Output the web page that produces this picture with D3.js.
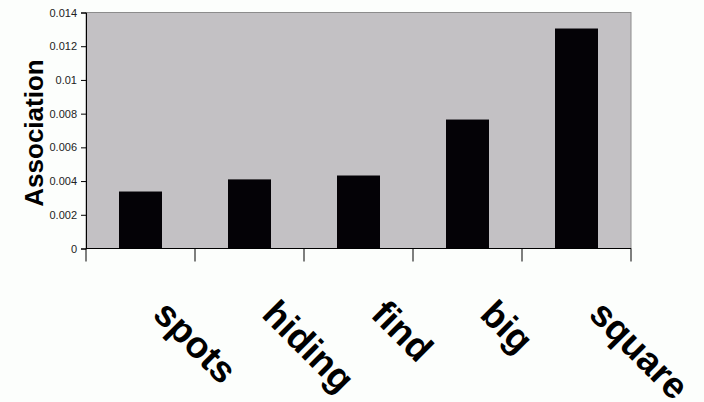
<!DOCTYPE html>
<html>
<head>
<meta charset="utf-8">
<script src="https://cdn.jsdelivr.net/npm/d3@7"></script>
<style>
  html, body { margin: 0; padding: 0; background: #fcfefc; }
  svg { display: block; }
</style>
</head>
<body>
<svg id="chart" width="704" height="402"></svg>
<script>
// Word association strengths
const categories = ["spots", "hiding", "find", "big", "square"];
const values = [0.00338, 0.0041, 0.00433, 0.00765, 0.01305];
const yTicks = [0, 0.002, 0.004, 0.006, 0.008, 0.01, 0.012, 0.014];
const yTickLabels = ["0", "0.002", "0.004", "0.006", "0.008", "0.01", "0.012", "0.014"];

const svg = d3.select("#chart");
const plotLeft = 86, plotRight = 631, plotTop = 12.5, plotBottom = 248.5;

const xBand = d3.scaleBand().domain(categories).range([plotLeft, plotRight]);
const y = d3.scaleLinear().domain([0, 0.014]).range([plotBottom, plotTop]);

// plot area
svg.append("rect")
  .attr("x", plotLeft).attr("y", plotTop)
  .attr("width", plotRight - plotLeft).attr("height", plotBottom - plotTop)
  .attr("fill", "#c3c1c4")
  .attr("stroke", "#8c8c8c").attr("stroke-width", 1);

// bars
svg.append("g").selectAll("rect")
  .data(categories)
  .join("rect")
  .attr("x", (d) => Math.round(xBand(d) + xBand.bandwidth() / 2 - 21.5))
  .attr("width", 43)
  .attr("y", (d, i) => y(values[i]))
  .attr("height", (d, i) => plotBottom - y(values[i]))
  .attr("fill", "#040206");

// y axis
const yAxis = d3.axisLeft(y)
  .tickValues(yTicks)
  .tickFormat((d, i) => yTickLabels[i])
  .tickSize(5)
  .tickPadding(4);
const gy = svg.append("g").attr("transform", `translate(${plotLeft},0)`).call(yAxis);
gy.select(".domain").attr("stroke", "#000");
gy.selectAll(".tick line").attr("stroke", "#000");
gy.selectAll(".tick text")
  .attr("font-family", "Arial, 'Liberation Sans', sans-serif")
  .attr("font-size", 11)
  .attr("fill", "#222");

// x axis with boundary ticks between categories
const boundaries = categories.map((d) => xBand(d)).concat([plotRight]);
const gx = svg.append("g");
gx.append("line")
  .attr("x1", plotLeft).attr("x2", plotRight)
  .attr("y1", plotBottom).attr("y2", plotBottom)
  .attr("stroke", "#000");
gx.selectAll("line.b")
  .data(boundaries)
  .join("line")
  .attr("class", "b")
  .attr("x1", (d) => d).attr("x2", (d) => d)
  .attr("y1", plotBottom).attr("y2", plotBottom + 13)
  .attr("stroke", "#000");

// category labels, rotated
gx.selectAll("text")
  .data(categories)
  .join("text")
  .attr("transform", (d) => `translate(${xBand(d) + xBand.bandwidth() / 2 + 11},316) rotate(45)`)
  .attr("font-family", "Arial, 'Liberation Sans', sans-serif")
  .attr("font-weight", "bold")
  .attr("font-size", 37)
  .attr("fill", "#000")
  .text((d) => d);

// y axis title
svg.append("text")
  .attr("transform", "translate(43,133) rotate(-90)")
  .attr("text-anchor", "middle")
  .attr("font-family", "Arial, 'Liberation Sans', sans-serif")
  .attr("font-weight", "bold")
  .attr("font-size", 26)
  .attr("fill", "#000")
  .text("Association");
</script>
</body>
</html>
